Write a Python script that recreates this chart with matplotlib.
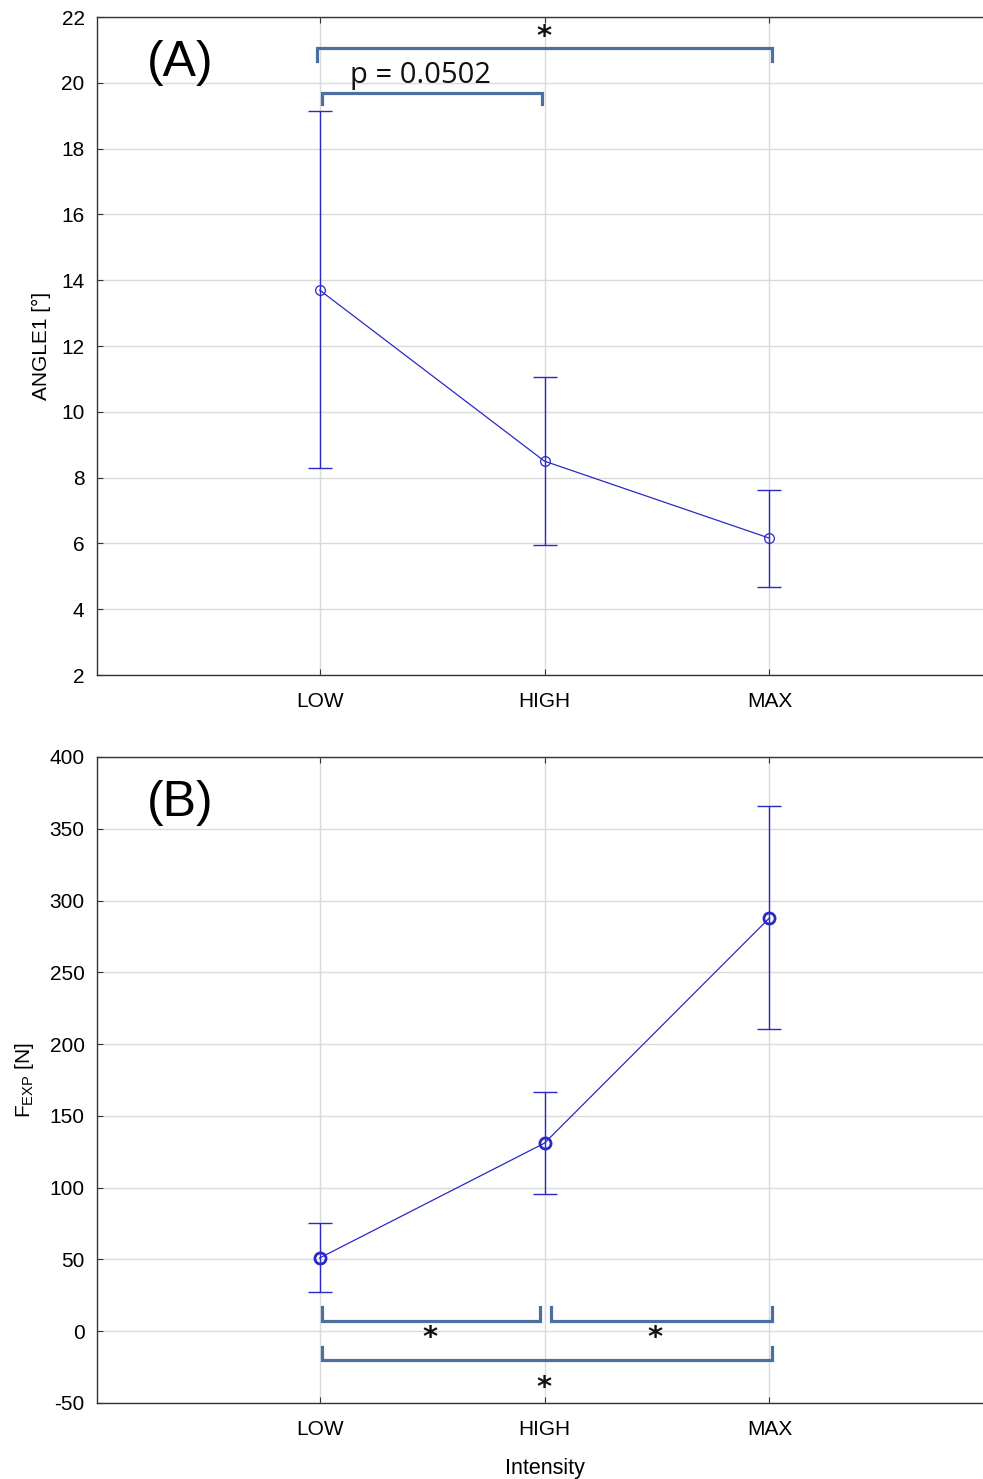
import matplotlib
matplotlib.use('Agg')
import matplotlib.pyplot as plt
import numpy as np

plt.rcParams.update({'font.family': ['Liberation Sans', 'DejaVu Sans'],
                     'mathtext.default': 'regular',
                     'axes.unicode_minus': False})

# data
levels = ['LOW', 'HIGH', 'MAX']
angle_mean = [13.70, 8.50, 6.16]
angle_hi = [19.14, 11.06, 7.62]
angle_lo = [8.29, 5.95, 4.67]
fexp_mean = [51.0, 131.0, 287.8]
fexp_hi = [75.4, 166.6, 365.9]
fexp_lo = [27.3, 95.6, 210.5]

# significance brackets: (x1, x2, y_bar, y_tip, label, x_label, y_label)
brackets_a = [(-0.01, 2.01, 21.06, 20.66, '*', 1.0, 21.4),
              (0.01, 0.99, 19.69, 19.36, 'p = 0.0502', 0.45, 20.22)]
brackets_b = [(0.01, 0.98, 7.1, 16.9, '*', 0.49, -5.0),
              (1.03, 2.01, 7.1, 16.9, '*', 1.49, -5.0),
              (0.01, 2.01, -20.0, -11.0, '*', 1.0, -39.5)]

LINE = '#2a2ac4'
BRK = '#4a6fa0'
GRID = '#dadada'

fig = plt.figure(figsize=(9.83, 14.79), dpi=100)
ax1 = fig.add_axes([0.0987, 0.5436, 0.9013, 0.4449])
ax2 = fig.add_axes([0.0987, 0.0514, 0.9013, 0.4368])

x = np.arange(len(levels))


def style(ax):
    ax.set_xlim(-0.99, 2.95)
    ax.set_xticks(x)
    ax.set_xticklabels(levels)
    ax.grid(True, color=GRID, lw=1)
    ax.set_axisbelow(True)
    ax.spines['right'].set_visible(False)
    for s in ['left', 'bottom', 'top']:
        ax.spines[s].set_linewidth(1.0)
        ax.spines[s].set_color('#333333')
    ax.tick_params(direction='in', length=4, labelsize=15, top=True, width=0.8,
                   color='#333333')
    ax.tick_params(axis='y', pad=9)
    ax.tick_params(axis='x', pad=12)


def draw(ax, mean, lo, hi, ms, mew):
    mean = np.array(mean)
    yerr = [mean - np.array(lo), np.array(hi) - mean]
    ax.errorbar(x, mean, yerr=yerr, color=LINE, lw=0.9, elinewidth=1.0,
                capsize=8.6, capthick=1.0, fmt='-')
    ax.plot(x, mean, 'o', ms=ms, mfc='none', mec=LINE, mew=mew, zorder=5)


def bracket(ax, b):
    x1, x2, yb, yt, lab, xl, yl = b
    ax.plot([x1, x1, x2, x2], [yt, yb, yb, yt], color=BRK, lw=2.3,
            solid_joinstyle='miter', clip_on=False)
    if lab == '*':
        ax.text(xl, yl, '*', ha='center', va='center', fontsize=21,
                fontweight='bold', family='DejaVu Sans', color='#111111')
    else:
        ax.text(xl, yl, lab, ha='center', va='center', fontsize=21,
                family=['Open Sans', 'DejaVu Sans'], color='#111111')


# (A)
style(ax1)
draw(ax1, angle_mean, angle_lo, angle_hi, 7, 0.9)
ax1.set_ylim(2, 22)
ax1.set_yticks(np.arange(2, 23, 2))
ax1.set_ylabel('ANGLE1 [°]', fontsize=15, labelpad=7)
for b in brackets_a:
    bracket(ax1, b)
ax1.text(-0.62, 20.6, '(A)', fontsize=36, ha='center', va='center')

# (B)
style(ax2)
draw(ax2, fexp_mean, fexp_lo, fexp_hi, 8, 2.0)
ax2.set_ylim(-50, 400)
ax2.set_yticks(np.arange(-50, 401, 50))
ax2.set_ylabel('F$_{EXP}$ [N]', fontsize=15, labelpad=10)
ax2.set_xlabel('Intensity', fontsize=15.5)
ax2.xaxis.set_label_coords(0.506, -0.085)
for b in brackets_b:
    bracket(ax2, b)
ax2.text(-0.62, 368, '(B)', fontsize=36, ha='center', va='center')

plt.savefig('out.png', dpi=100)
plt.close()
